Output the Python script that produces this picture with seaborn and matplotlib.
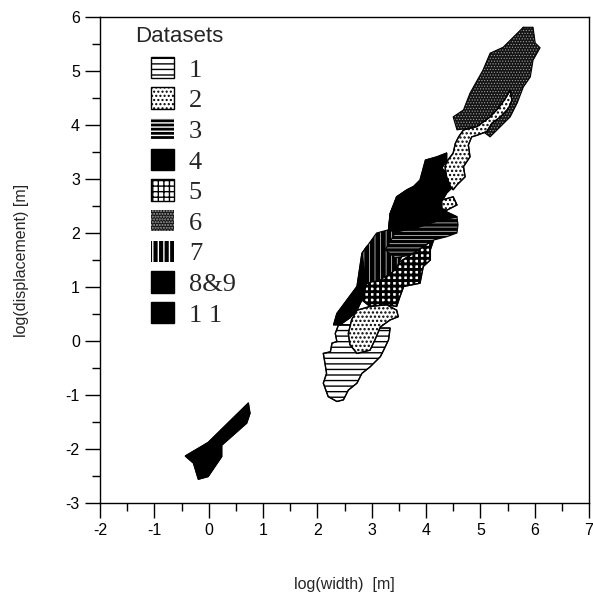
import matplotlib
matplotlib.use("Agg")
import matplotlib.pyplot as plt
import matplotlib.patches as mpatches
import pandas as pd
import seaborn as sns

# ---- data (log10 width, log10 displacement) outlines of each dataset ----
ds1_x = [2.39, 2.60, 2.70, 3.12, 3.34, 3.31, 3.22, 3.16, 2.97, 2.82, 2.73, 2.57, 2.48, 2.36, 2.20,
         2.11, 2.17, 2.14, 2.11, 2.24, 2.27, 2.36, 2.33]
ds1_y = [0.30, 0.30, 0.20, 0.24, 0.24, 0.02, -0.17, -0.29, -0.48, -0.60, -0.78, -0.91, -1.09, -1.12, -1.03,
         -0.78, -0.60, -0.41, -0.23, -0.20, -0.04, -0.01, 0.14]

ds2_low_x = [2.73, 2.97, 3.28, 3.46, 3.49, 3.34, 3.16, 3.06, 2.97, 2.73, 2.60, 2.57, 2.63]
ds2_low_y = [0.57, 0.64, 0.67, 0.57, 0.45, 0.39, 0.26, 0.02, -0.17, -0.23, -0.07, 0.14, 0.39]
ds2_mid_x = [4.29, 4.50, 4.57, 4.38, 4.29]
ds2_mid_y = [2.61, 2.67, 2.52, 2.42, 2.45]
ds2_up_x = [5.55, 5.58, 5.52, 5.37, 5.21, 5.12, 4.94, 4.84, 4.78, 4.81, 4.69, 4.72, 4.57, 4.50,
            4.45, 4.38, 4.35, 4.38, 4.50, 4.54, 4.60, 4.69, 4.94, 5.18, 5.33, 5.46]
ds2_up_y = [4.64, 4.46, 4.31, 4.15, 4.03, 3.88, 3.81, 3.78, 3.63, 3.41, 3.23, 3.04, 2.89, 2.80,
            2.86, 3.04, 3.23, 3.32, 3.48, 3.66, 3.78, 3.91, 3.97, 4.15, 4.31, 4.49]

ds3_x = [3.52, 3.89, 4.26, 4.57, 4.59, 4.57, 4.38, 4.14, 3.99, 3.71, 3.43, 3.25]
ds3_y = [2.15, 2.33, 2.37, 2.30, 2.15, 2.00, 1.93, 1.87, 1.78, 1.59, 1.54, 1.69]

ds4_x = [4.38, 4.38, 4.29, 4.48, 4.50, 4.38, 4.29, 4.38, 4.57, 4.26, 3.80, 3.43, 3.31, 3.34,
         3.46, 3.65, 3.77, 3.89, 3.99, 4.20]
ds4_y = [3.48, 3.35, 3.20, 3.04, 2.86, 2.74, 2.58, 2.39, 2.30, 2.24, 2.09, 2.02, 2.06, 2.36,
         2.67, 2.80, 2.86, 2.98, 3.35, 3.41]

ds5_x = [2.91, 3.16, 3.43, 3.71, 3.99, 4.14, 4.08, 4.08, 3.95, 3.89, 3.59, 3.52, 3.46, 3.28, 2.97, 2.82]
ds5_y = [1.07, 1.22, 1.41, 1.59, 1.78, 1.87, 1.69, 1.50, 1.38, 1.07, 1.01, 0.82, 0.64, 0.67, 0.64, 0.76]

ds6_x = [5.79, 5.97, 6.01, 6.10, 5.97, 5.92, 5.79, 5.68, 5.55, 5.18, 4.94, 4.57, 4.50, 4.69,
         4.81, 5.05, 5.18, 5.42, 5.68]
ds6_y = [5.81, 5.81, 5.52, 5.43, 5.20, 4.89, 4.70, 4.41, 4.15, 3.78, 3.96, 3.91, 4.15, 4.28,
         4.59, 5.02, 5.33, 5.44, 5.70]

ds7_x = [2.82, 2.91, 3.09, 3.31, 3.34, 3.46, 3.65, 3.77, 3.86, 3.75, 3.62, 3.43, 3.16, 2.91]
ds7_y = [1.62, 1.75, 2.00, 2.06, 2.36, 2.67, 2.80, 2.86, 2.61, 2.15, 1.69, 1.31, 1.13, 1.07]

ds89_x = [2.30, 2.36, 2.73, 2.82, 2.91, 3.09, 3.16, 3.06, 2.91, 2.82, 2.73, 2.60, 2.42]
ds89_y = [0.30, 0.51, 1.01, 1.62, 1.75, 1.87, 1.50, 1.22, 1.07, 0.76, 0.57, 0.43, 0.30]

ds11_x = [0.73, 0.76, 0.70, 0.24, 0.24, -0.01, -0.19, -0.28, -0.43, -0.01]
ds11_y = [-1.15, -1.34, -1.52, -1.93, -2.14, -2.51, -2.56, -2.26, -2.13, -1.88]

legend_labels = ["1", "2", "3", "4", "5", "6", "7", "8&9", "1 1"]
x_ticks = [-2, -1, 0, 1, 2, 3, 4, 5, 6, 7]
y_ticks = [-3, -2, -1, 0, 1, 2, 3, 4, 5, 6]

# ---- styles ----
sns.set_style("ticks")
plt.rcParams.update({
    "font.family": ["Liberation Sans", "DejaVu Sans"],
    "axes.unicode_minus": False,
    "axes.linewidth": 1.0,
    "xtick.major.size": 10.5, "ytick.major.size": 10.5,
    "xtick.minor.size": 5.5, "ytick.minor.size": 5.5,
    "xtick.major.width": 1.0, "ytick.major.width": 1.0,
    "xtick.minor.width": 1.0, "ytick.minor.width": 1.0,
    "xtick.direction": "out", "ytick.direction": "out",
    "xtick.color": "black", "ytick.color": "black",
    "axes.edgecolor": "black",
    "hatch.linewidth": 1.0,
})

STY = {
    "1": dict(fc="white", ec="black", hatch="---", hlw=1.0, lw=1.0),
    "2": dict(fc="white", ec="black", hatch="....", hlw=1.1, lw=1.0),
    "3": dict(fc="black", ec="white", hatch="----", hlw=0.45, lw=0),
    "4": dict(fc="black", ec="black", hatch=None, hlw=1.0, lw=1.0),
    "5": dict(fc="white", ec="black", hatch="+++", hlw=2.1, lw=1.0),
    "6": dict(fc="#141414", ec="#a0a0a0", hatch="......", hlw=0.5, lw=0),
    "7": dict(fc="black", ec="white", hatch="|||", hlw=0.45, lw=0),
    "8&9": dict(fc="black", ec="black", hatch=None, hlw=1.0, lw=1.0),
    "1 1": dict(fc="black", ec="black", hatch=None, hlw=1.0, lw=1.0),
}

fig = plt.figure(figsize=(5.93, 5.98), dpi=100)
ax = fig.add_axes([100 / 593, 95 / 598, 489 / 593, 486 / 598])


def draw(key, xs, ys, z):
    s = STY[key]
    with plt.rc_context({"hatch.linewidth": s["hlw"]}):
        polys = ax.fill(xs, ys, facecolor=s["fc"], edgecolor=s["ec"], hatch=s["hatch"],
                        linewidth=s["lw"], zorder=z)
    for p in polys:
        if hasattr(p, "set_hatch_linewidth"):
            p.set_hatch_linewidth(s["hlw"])
    df = pd.DataFrame({"x": list(xs) + [xs[0]], "y": list(ys) + [ys[0]]})
    sns.lineplot(data=df, x="x", y="y", sort=False, estimator=None, color="black",
                 linewidth=0.8, ax=ax, zorder=z + 0.1, legend=False)


draw("1", ds1_x, ds1_y, 2)
draw("8&9", ds89_x, ds89_y, 3)
draw("5", ds5_x, ds5_y, 4)
draw("7", ds7_x, ds7_y, 5)
draw("3", ds3_x, ds3_y, 6)
draw("4", ds4_x, ds4_y, 7)
draw("6", ds6_x, ds6_y, 8)
draw("2", ds2_up_x, ds2_up_y, 9)
draw("2", ds2_mid_x, ds2_mid_y, 9)
draw("2", ds2_low_x, ds2_low_y, 9)
draw("1 1", ds11_x, ds11_y, 10)

ax.set_xlim(-2, 7)
ax.set_ylim(-3, 6)
ax.set_xticks(x_ticks)
ax.set_yticks(y_ticks)
ax.set_xticks([t + 0.5 for t in x_ticks[:-1]], minor=True)
ax.set_yticks([t + 0.5 for t in y_ticks[:-1]], minor=True)
ax.tick_params(axis="both", which="major", labelsize=11.5, pad=4)
for sp in ax.spines.values():
    sp.set_visible(True)
    sp.set_linewidth(1.0)

ax.set_xlabel("log(width)  [m]", fontsize=11.5, labelpad=28)
ax.set_ylabel("log(displacement) [m]", fontsize=11.5, labelpad=26)

# legend
handles = []
for lab in legend_labels:
    s = STY[lab]
    with plt.rc_context({"hatch.linewidth": s["hlw"]}):
        h = mpatches.Patch(facecolor=s["fc"], edgecolor=s["ec"] if s["hatch"] else "black",
                           hatch=s["hatch"], linewidth=s["lw"], label=lab)
    if hasattr(h, "set_hatch_linewidth"):
        h.set_hatch_linewidth(s["hlw"])
    handles.append(h)

leg = ax.legend(handles=handles, loc="upper left", bbox_to_anchor=(0.105, 0.918),
                frameon=False, borderpad=0, borderaxespad=0, handlelength=0.87,
                handleheight=0.87, handletextpad=0.55, labelspacing=0.22,
                prop={"family": ["Liberation Serif"], "size": 19})
ax.text(0.072, 0.949, "Datasets", transform=ax.transAxes, fontsize=16,
        family=["Liberation Sans"], va="baseline", ha="left")

fig.savefig("out.png", dpi=100)
